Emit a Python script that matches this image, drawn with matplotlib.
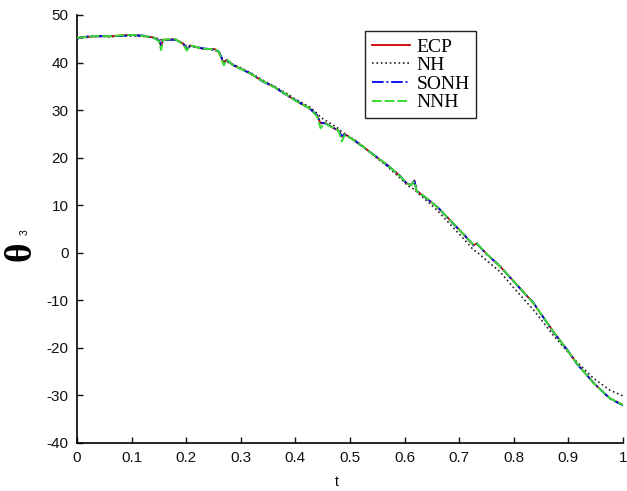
import numpy as np
import matplotlib
matplotlib.use('Agg')
import matplotlib.pyplot as plt

## -- 读出的曲线数据
t = [0.000, 0.020, 0.040, 0.060, 0.080, 0.100, 0.120, 0.140, 0.150, 0.154,
     0.158, 0.180, 0.195, 0.201, 0.207, 0.230, 0.253, 0.260, 0.269, 0.274,
     0.286, 0.300, 0.317, 0.340, 0.360, 0.384, 0.400, 0.427, 0.440, 0.446,
     0.454, 0.470, 0.479, 0.485, 0.491, 0.510, 0.524, 0.545, 0.567, 0.590,
     0.604, 0.612, 0.618, 0.622, 0.640, 0.659, 0.689, 0.710, 0.726, 0.732,
     0.750, 0.775, 0.800, 0.836, 0.872, 0.900, 0.915, 0.946, 0.976, 1.000]

ecp = [45.2, 45.4, 45.6, 45.5, 45.7, 45.8, 45.6, 45.3, 44.6, 43.5,
       44.8, 44.9, 43.9, 42.6, 43.6, 42.9, 42.8, 42.2, 39.8, 40.6,
       39.4, 38.7, 37.7, 36.1, 34.9, 33.2, 32.0, 30.3, 28.8, 27.2,
       27.3, 26.2, 25.7, 24.4, 24.9, 23.4, 22.3, 20.4, 18.6, 16.3,
       14.6, 14.2, 15.2, 13.0, 11.5, 9.7, 6.2, 3.6, 1.6, 1.9,
       -0.2, -2.9, -6.0, -10.6, -16.5, -20.8, -23.2, -27.4, -30.6, -32.0]

nh = [45.0, 45.3, 45.5, 45.4, 45.6, 45.6, 45.5, 45.2, 45.0, 44.8,
      44.7, 44.8, 44.0, 43.4, 43.4, 42.9, 42.6, 42.0, 40.3, 40.2,
      39.6, 38.9, 37.9, 36.3, 35.1, 33.5, 32.3, 30.6, 29.3, 28.5,
      27.9, 26.8, 26.1, 25.4, 25.0, 23.6, 22.4, 20.3, 18.3, 15.9,
      14.3, 13.6, 13.4, 12.8, 11.0, 9.0, 5.3, 2.7, 0.6, 0.2,
      -1.6, -4.0, -7.4, -12.0, -17.3, -21.0, -22.9, -26.4, -28.9, -30.1]

sonh = [45.1, 45.5, 45.5, 45.6, 45.6, 45.7, 45.7, 45.2, 44.7, 43.7,
        44.7, 44.8, 44.0, 42.7, 43.5, 43.0, 42.7, 42.3, 39.9, 40.5,
        39.5, 38.6, 37.8, 36.0, 35.0, 33.1, 32.1, 30.2, 28.9, 27.4,
        27.2, 26.3, 25.6, 24.6, 24.8, 23.5, 22.2, 20.5, 18.5, 16.4,
        14.5, 14.3, 15.1, 13.1, 11.4, 9.8, 6.1, 3.7, 1.5, 2.0,
        -0.3, -2.8, -6.1, -10.5, -16.6, -20.7, -23.3, -27.3, -30.7, -32.1]

nnh = [45.2, 45.4, 45.6, 45.5, 45.7, 45.8, 45.6, 45.3, 44.5, 42.6,
       44.8, 44.9, 43.8, 42.5, 43.6, 42.9, 42.8, 42.2, 39.4, 40.7,
       39.4, 38.7, 37.7, 36.1, 34.9, 33.2, 32.0, 30.3, 28.6, 26.2,
       27.2, 26.2, 25.7, 23.4, 24.9, 23.4, 22.3, 20.4, 18.6, 16.3,
       14.6, 14.2, 15.0, 13.0, 11.5, 9.7, 6.2, 3.6, 1.7, 2.0,
       -0.2, -2.9, -6.0, -10.6, -16.5, -20.8, -23.2, -27.4, -30.6, -32.0]

xticks = [0, 0.1, 0.2, 0.3, 0.4, 0.5, 0.6, 0.7, 0.8, 0.9, 1]
xtick_labels = ['0', '0.1', '0.2', '0.3', '0.4', '0.5', '0.6', '0.7', '0.8', '0.9', '1']
yticks = [-40, -30, -20, -10, 0, 10, 20, 30, 40, 50]

plt.rcParams['font.family'] = ['Liberation Sans', 'DejaVu Sans']
plt.rcParams['axes.unicode_minus'] = False

fig = plt.figure(figsize=(6.27, 4.91), dpi=100)
ax = fig.add_axes([0.1228, 0.0978, 0.8708, 0.8717])

ax.plot(t, nh, color='#222222', ls=':', lw=1.2, label='NH', zorder=2)
ax.plot(t, ecp, color='#cc0000', ls='-', lw=1.3, label='ECP', zorder=3)
ax.plot(t, sonh, color='#0000ee', ls='-.', lw=1.3, label='SONH', zorder=4)
ax.plot(t, nnh, color='#33dd33', ls=(0, (5, 1.5)), lw=1.4, label='NNH', zorder=5)

ax.set_xlim(0, 1)
ax.set_ylim(-40, 50)
ax.set_xticks(xticks)
ax.set_xticklabels(xtick_labels)
ax.set_yticks(yticks)
ax.tick_params(direction='in', length=4, width=1, labelsize=11, colors='#111111', pad=6)
ax.spines['top'].set_visible(False)
ax.spines['right'].set_visible(False)
for s in ['left', 'bottom']:
    ax.spines[s].set_linewidth(1.2)

ax.set_xlabel('t', fontsize=10, labelpad=2)
ax.xaxis.set_label_coords(0.475, -0.074)

## -- y 轴标签 (旋转的 theta 加下标 3)
fig.text(0.034, 0.488, 'θ', rotation=90, fontsize=27, weight='bold',
         family='Liberation Serif', ha='center', va='center')
fig.text(0.039, 0.528, '3', rotation=90, fontsize=7.5,
         ha='center', va='center')

h, l = ax.get_legend_handles_labels()
order = [1, 0, 2, 3]
leg = ax.legend([h[i] for i in order], [l[i] for i in order],
                loc='upper left', bbox_to_anchor=(0.527, 0.962),
                borderaxespad=0, fancybox=False, framealpha=1,
                edgecolor='#222222', labelspacing=0.05, handlelength=2.0,
                handletextpad=0.3, borderpad=0.35,
                prop={'family': 'Liberation Serif', 'size': 14})
leg.get_frame().set_linewidth(1.0)

fig.savefig('out.png', dpi=100)
